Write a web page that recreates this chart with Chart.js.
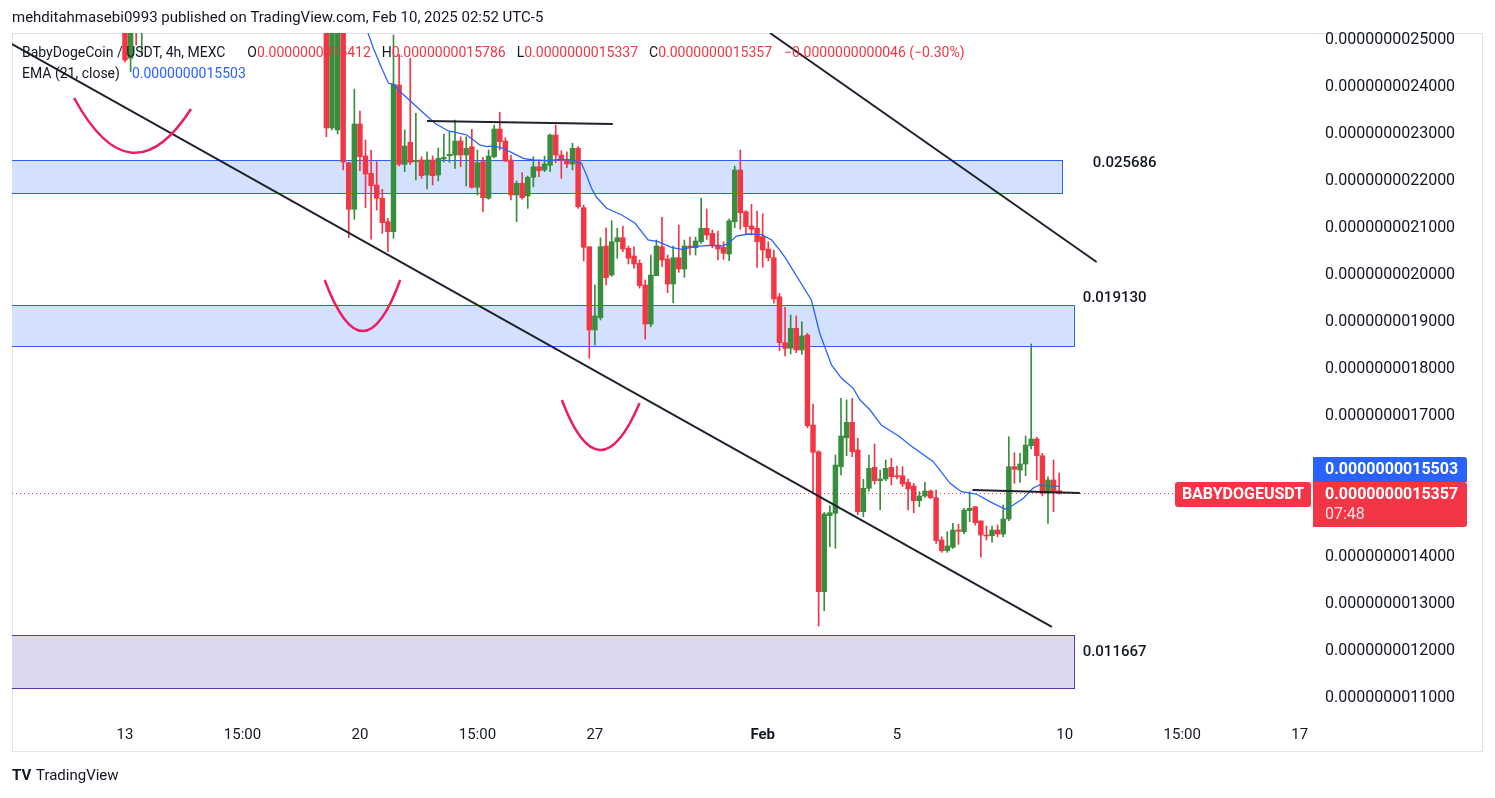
<!DOCTYPE html>
<html>
<head>
<meta charset="utf-8">
<script src="https://cdn.jsdelivr.net/npm/chart.js@4.4.1/dist/chart.umd.min.js"></script>
<style>
  html, body { margin: 0; padding: 0; background: #fff; }
  canvas { display: block; }
</style>
</head>
<body>
<canvas id="chart" width="1495" height="798"></canvas>
<script>
// prices are in units of 1e-9 USDT, candle index = 4h bars since Jan 13 00:00
const candleIdx = [0, 1, 2, 3,
  36, 37, 38, 39, 40, 41, 42, 43, 44, 45, 46, 47, 48, 49, 50, 51, 52, 53, 54, 55, 56, 57, 58, 59,
  60, 61, 62, 63, 64, 65, 66, 67, 68, 69, 70, 71, 72, 73, 74, 75, 76, 77, 78, 79, 80, 81, 82, 83,
  84, 85, 86, 87, 88, 89, 90, 91, 92, 93, 94, 95, 96, 97, 98, 99, 100, 101, 102, 103, 104, 105,
  106, 107, 108, 109, 110, 111, 112, 113, 114, 115, 116, 117, 118, 119, 120, 121, 122, 123, 124,
  125, 126, 127, 128, 129, 130, 131, 132, 133, 134, 135, 136, 137, 138, 139, 140, 141, 142, 143,
  144, 145, 146, 147, 148, 149, 150, 151, 152, 153, 154, 155, 156, 157, 158, 159, 160, 161, 162,
  163, 164, 165, 166, 167];

const open = [2.56, 2.4611, 2.60, 2.54,
  2.60, 2.3128, 2.3085, 2.60, 2.2389, 2.1398, 2.3213, 2.2532, 2.2164, 2.1915, 2.1632, 2.1134, 2.0921, 2.4042, 2.2355, 2.2823, 2.2411, 2.2447, 2.2128, 2.2447, 2.2128, 2.2468, 2.2538, 2.2553,
  2.2851, 2.2553, 2.2730, 2.1866, 2.2411, 2.1632, 2.2517, 2.3106, 2.2851, 2.2447, 2.1702, 2.1951, 2.1681, 2.2079, 2.2304, 2.2234, 2.2334, 2.2979, 2.2553, 2.2447, 2.2362, 2.2696, 2.1432, 2.0602,
  1.8830, 1.9091, 2.0617, 2.0000, 2.0708, 2.0794, 2.0568, 2.0404, 2.0249, 1.9787, 1.8957, 1.9985, 2.0602, 2.0340, 1.9808, 2.0368, 2.0128, 2.0617, 2.0581, 2.0708, 2.0994, 2.0887,
  2.0638, 2.0589, 2.0447, 2.1134, 2.2234, 2.1347, 2.1042, 2.0994, 2.0815, 2.0553, 2.0368, 1.9538, 1.8560, 1.8440, 1.8866, 1.8404, 1.8723, 1.6808, 1.6240,
  1.3262, 1.4879, 1.4930, 1.5921, 1.6538, 1.6866, 1.6277, 1.4964, 1.5462, 1.5908, 1.5623, 1.5660, 1.5908, 1.5730, 1.5730, 1.5589, 1.5511, 1.5198, 1.5298,
  1.5404, 1.5262, 1.4362, 1.4134, 1.4206, 1.4574, 1.4538, 1.4985, 1.5070, 1.4766, 1.4468, 1.4453, 1.4574, 1.4489, 1.4808, 1.5921, 1.5851, 1.5979, 1.6368,
  1.6511, 1.6155, 1.5355, 1.5638, 1.5412];

const high = [2.58, 2.60, 2.62, 2.60,
  2.62, 2.58, 2.62, 2.62, 2.2404, 2.3957, 2.3489, 2.2872, 2.2660, 2.2411, 2.1823, 2.1206, 2.5106, 2.4696, 2.3085, 2.4611, 2.3440, 2.2517, 2.2623, 2.2532, 2.2702, 2.3000, 2.3049, 2.3298,
  2.2942, 2.2942, 2.3100, 2.2660, 2.2504, 2.2660, 2.3191, 2.3462, 2.2921, 2.2553, 2.2000, 2.2177, 2.2106, 2.2517, 2.2447, 2.2532, 2.3000, 2.3191, 2.2645, 2.2623, 2.2802, 2.2730, 2.1489, 2.0602,
  1.9787, 2.0794, 2.1006, 2.1155, 2.0994, 2.1042, 2.0617, 2.0602, 2.0319, 1.9894, 2.0425, 2.0745, 2.1228, 2.0425, 2.0617, 2.1064, 2.0745, 2.0808, 2.0808, 2.1632, 2.1404, 2.0957,
  2.0936, 2.0708, 2.1191, 2.2319, 2.2660, 2.1369, 2.1504, 2.1362, 2.1298, 2.0708, 2.0532, 1.9611, 1.9313, 1.9149, 1.9128, 1.9006, 1.8759, 1.7255, 1.6262,
  1.4951, 1.5091, 1.6170, 1.7377, 1.7340, 1.7377, 1.6525, 1.5653, 1.6170, 1.6404, 1.5851, 1.6064, 1.6100, 1.5936, 1.5922, 1.5660, 1.5568, 1.5389, 1.5589,
  1.5426, 1.5426, 1.4432, 1.4538, 1.4717, 1.4696, 1.5036, 1.5389, 1.5070, 1.4772, 1.4660, 1.4660, 1.4681, 1.5106, 1.6560, 1.6219, 1.6206, 1.6574, 1.8532,
  1.6547, 1.6206, 1.5708, 1.6064, 1.5786];

const low = [2.4532, 2.4325, 2.4894, 2.4681,
  2.2942, 2.3085, 2.30, 2.2234, 2.0794, 2.1185, 2.2219, 2.1432, 2.0760, 2.1383, 2.0887, 2.0496, 2.0781, 2.2320, 2.2198, 2.2350, 2.2021, 2.2057, 2.1830, 2.1915, 2.2000, 2.2404, 2.2398, 2.2270,
  2.2304, 2.1894, 2.1845, 2.1702, 2.1347, 2.1611, 2.2490, 2.2660, 2.2411, 2.1596, 2.1134, 2.1611, 2.1419, 2.1879, 2.2091, 2.2198, 2.2198, 2.2389, 2.2057, 2.2283, 2.2234, 2.1419, 2.0298, 1.8228,
  1.8511, 1.9042, 1.9787, 1.9970, 2.0355, 2.0496, 2.0234, 2.0142, 1.9720, 1.8638, 1.8900, 1.9985, 2.0177, 1.9623, 1.9411, 2.0057, 1.9951, 2.0425, 2.0425, 2.0674, 2.0760, 2.0580,
  2.0319, 2.0334, 2.0304, 2.1006, 2.0972, 2.0872, 2.0851, 2.0164, 2.0164, 2.0300, 1.9400, 1.8389, 1.8277, 1.8319, 1.8347, 1.8310, 1.6750, 1.5355, 1.2532,
  1.2857, 1.4219, 1.4185, 1.5745, 1.6155, 1.6134, 1.4900, 1.4857, 1.5400, 1.5550, 1.5000, 1.5620, 1.5532, 1.5660, 1.5496, 1.5000, 1.4942, 1.5070, 1.5266,
  1.5240, 1.4291, 1.4100, 1.4100, 1.4180, 1.4270, 1.4489, 1.4751, 1.4681, 1.3994, 1.4362, 1.4313, 1.4430, 1.4432, 1.4772, 1.5568, 1.5589, 1.5730, 1.6300,
  1.5638, 1.5300, 1.4717, 1.4964, 1.5337];

const close = [2.4574, 2.57, 2.54, 2.58,
  2.3128, 2.56, 2.60, 2.2404, 2.1398, 2.3213, 2.2517, 2.2149, 2.1900, 2.1632, 2.1113, 2.0921, 2.4057, 2.2355, 2.2745, 2.2398, 2.2440, 2.2113, 2.2447, 2.2113, 2.2483, 2.2504, 2.2568, 2.2851,
  2.2553, 2.2696, 2.1866, 2.2389, 2.1645, 2.2532, 2.3106, 2.2836, 2.2425, 2.1702, 2.1951, 2.1645, 2.2079, 2.2304, 2.2219, 2.2362, 2.2979, 2.2553, 2.2432, 2.2362, 2.2696, 2.1453, 2.0589, 1.8830,
  1.9128, 2.0602, 1.9942, 2.0708, 2.0794, 2.0553, 2.0355, 2.0234, 1.9772, 1.8957, 2.0000, 2.0617, 2.0319, 1.9808, 2.0368, 2.0128, 2.0617, 2.0589, 2.0723, 2.0994, 2.0851, 2.0623,
  2.0553, 2.0462, 2.1155, 2.2234, 2.1325, 2.1028, 2.0972, 2.0708, 2.0532, 2.0368, 1.9489, 1.8560, 1.8440, 1.8866, 1.8404, 1.8702, 1.6794, 1.6228, 1.3262,
  1.4915, 1.4943, 1.5957, 1.6574, 1.6866, 1.6240, 1.4964, 1.5462, 1.5887, 1.5623, 1.5660, 1.5887, 1.5708, 1.5708, 1.5553, 1.5447, 1.5198, 1.5298, 1.5404,
  1.5262, 1.4347, 1.4134, 1.4234, 1.4574, 1.4547, 1.5000, 1.5036, 1.4730, 1.4468, 1.4447, 1.4574, 1.4489, 1.4808, 1.5921, 1.5866, 1.5979, 1.6383, 1.6511,
  1.6155, 1.5355, 1.5638, 1.5403, 1.5357];

// EMA(21, close)
const emaIdx = [43, 44.4, 45.9, 47.1, 48.0, 49.5, 51.8, 53.6, 55.4, 57.8, 59.9, 61.1, 62.3, 63.4, 64.6, 65.8,
  67.6, 69.4, 71.2, 73.0, 75.4, 77.7, 80.1, 81.6, 82.5, 83.4, 84.3, 86.1, 88.8, 91.2, 93.5, 95.3, 97.7,
  99.5, 101.9, 104.3, 106.6, 107.8, 109.3, 111.4, 113.8, 115.6, 116.8, 118.0, 122.7, 124.2, 126.3, 128.1,
  130.2, 131.4, 133.2, 135.2, 138.5, 140.3, 144.5, 147.5, 149.5, 152.2, 154.6, 157.3, 158.8, 160.6, 162.3,
  163.5, 167];
const emaVal = [2.53, 2.4823, 2.4398, 2.4079, 2.4057, 2.3866, 2.3617, 2.3419, 2.3228, 2.3064, 2.3015, 2.2979,
  2.2872, 2.2766, 2.2730, 2.2745, 2.2696, 2.2589, 2.2483, 2.2447, 2.2432, 2.2462, 2.2447, 2.2377, 2.2128,
  2.1845, 2.1653, 2.1419, 2.1277, 2.1100, 2.0745, 2.0708, 2.0589, 2.0545, 2.0602, 2.0632, 2.0617, 2.0660,
  2.0830, 2.0872, 2.0857, 2.0745, 2.0568, 2.0377, 1.9468, 1.8760, 1.8085, 1.7802, 1.7589, 1.7340, 1.7128,
  1.6808, 1.6560, 1.6383, 1.6028, 1.5568, 1.5389, 1.5340, 1.5177, 1.5021, 1.5106, 1.5249, 1.5462, 1.5532,
  1.5503];

// axes
const xTickPos = [0, 21, 42, 63, 84, 114, 138, 168, 189, 210];
const xTickLabels = ["13", "15:00", "20", "15:00", "27", "Feb", "5", "10", "15:00", "17"];
const yTicks = [1.1, 1.2, 1.3, 1.4, 1.5, 1.6, 1.7, 1.8, 1.9, 2.0, 2.1, 2.2, 2.3, 2.4, 2.5];

// drawings on the chart: [idx, price]
const zones = [
  { from: [-22, 2.2447], to: [167.5, 2.1745], fill: "#d3e0fe", stroke: "#2962ff" },
  { from: [-22, 1.9362], to: [169.6, 1.8489], fill: "#d3e0fe", stroke: "#2962ff" },
  { from: [-22, 1.2340], to: [169.6, 1.1213], fill: "#dcd6ef", stroke: "#5e35b1" },
];
const zoneLabels = [
  { text: "0.025686", at: [173.0, 2.2383] },
  { text: "0.019130", at: [171.2, 1.9511] },
  { text: "0.011667", at: [171.2, 1.1979] },
];
const trendLines = [
  [[-20.2, 2.4915], [165.7, 1.2511]],
  [[115.3, 2.5149], [173.7, 2.0277]],
  [[54.0, 2.3277], [87.2, 2.3213]],
  [[151.5, 1.5425], [170.7, 1.5362]],
];
// U-shaped marks: start, bottom, end
const arcs = [
  [[-9.1, 2.3766], [1.2, 2.2602], [11.8, 2.3532]],
  [[35.7, 1.9894], [42.5, 1.8808], [49.2, 1.9894]],
  [[78.1, 1.7340], [84.9, 1.6277], [92.0, 1.7277]],
];

const UP = "#388e3c";
const DOWN = "#f23645";
const BLUE = "#2962ff";
const INK = "#131722";
const FONT = "Roboto, 'Noto Sans', sans-serif";

const fmt = v => (v / 1e9).toFixed(13);
const colors = open.map((o, k) => close[k] >= o ? UP : DOWN);
const last = close.length - 1;

// hide axis labels that sit under the price / EMA tags
const tickColor = ctx => {
  const ys = ctx.chart.scales.y;
  const tagY = ys.getPixelForValue(close[last]) - 24;
  const y = ys.getPixelForValue(ctx.tick.value);
  return Math.abs(y - tagY) < 16 ? "rgba(0,0,0,0)" : INK;
};

const overlay = {
  id: "overlay",
  beforeDraw(chart) {
    const c = chart.ctx;
    c.save();
    c.fillStyle = "#fff";
    c.fillRect(0, 0, chart.width, chart.height);
    c.strokeStyle = "#e0e3eb";
    c.lineWidth = 1;
    c.strokeRect(12.5, 33.5, 1470, 718);
    c.restore();
  },
  beforeDatasetsDraw(chart) {
    const c = chart.ctx, xs = chart.scales.x, ys = chart.scales.y, a = chart.chartArea;
    c.save();
    c.beginPath();
    c.rect(a.left, a.top, a.right - a.left, a.bottom - a.top);
    c.clip();
    zones.forEach(z => {
      const x0 = xs.getPixelForValue(z.from[0]), x1 = xs.getPixelForValue(z.to[0]);
      const y0 = ys.getPixelForValue(z.from[1]), y1 = ys.getPixelForValue(z.to[1]);
      c.fillStyle = z.fill;
      c.fillRect(x0, y0, x1 - x0, y1 - y0);
      c.strokeStyle = z.stroke;
      c.lineWidth = 1;
      c.strokeRect(Math.round(x0) + 0.5, Math.round(y0) + 0.5, Math.round(x1 - x0), Math.round(y1 - y0));
    });
    // last price line
    const py = Math.round(ys.getPixelForValue(close[last])) + 0.5;
    c.strokeStyle = DOWN;
    c.lineWidth = 1;
    c.setLineDash([1, 3]);
    c.beginPath();
    c.moveTo(a.left, py);
    c.lineTo(a.right, py);
    c.stroke();
    c.restore();
  },
  afterDatasetsDraw(chart) {
    const c = chart.ctx, xs = chart.scales.x, ys = chart.scales.y, a = chart.chartArea;
    const P = p => [xs.getPixelForValue(p[0]), ys.getPixelForValue(p[1])];
    c.save();
    c.beginPath();
    c.rect(a.left, a.top, a.right - a.left, a.bottom - a.top);
    c.clip();
    c.strokeStyle = "#1e222d";
    c.lineWidth = 2;
    trendLines.forEach(([p, q]) => {
      const [x0, y0] = P(p), [x1, y1] = P(q);
      c.beginPath();
      c.moveTo(x0, y0);
      c.lineTo(x1, y1);
      c.stroke();
    });
    c.strokeStyle = "#e91e63";
    c.lineWidth = 2.5;
    arcs.forEach(([p, b, q]) => {
      const [x0, y0] = P(p), [bx, by] = P(b), [x1, y1] = P(q);
      const cx = 2 * bx - (x0 + x1) / 2, cy = 2 * by - (y0 + y1) / 2;
      c.beginPath();
      c.moveTo(x0, y0);
      c.quadraticCurveTo(cx, cy, x1, y1);
      c.stroke();
    });
    c.fillStyle = INK;
    c.font = "500 15px " + FONT;
    c.textBaseline = "middle";
    zoneLabels.forEach(l => {
      const [x, y] = P(l.at);
      c.fillText(l.text, x, y);
    });
    c.restore();
  },
  afterDraw(chart) {
    const c = chart.ctx, ys = chart.scales.y, a = chart.chartArea;
    c.save();
    c.textBaseline = "middle";
    c.textAlign = "left";

    // header
    c.font = "15px " + FONT;
    c.fillStyle = INK;
    c.fillText("mehditahmasebi0993 published on TradingView.com, Feb 10, 2025 02:52 UTC-5", 12, 18);

    // legend
    const runs = (x, y, parts) => {
      parts.forEach(([t, col, gap]) => {
        x += gap || 0;
        c.fillStyle = col;
        c.fillText(t, x, y);
        x += c.measureText(t).width;
      });
    };
    const chg = close[last] - close[last - 1];
    const pct = chg / close[last - 1] * 100;
    c.font = "14px " + FONT;
    runs(22, 53, [
      ["BabyDogeCoin / USDT, 4h, MEXC", INK],
      ["O", INK, 22], [fmt(open[last]), DOWN],
      ["H", INK, 11], [fmt(high[last]), DOWN],
      ["L", INK, 11], [fmt(low[last]), DOWN],
      ["C", INK, 11], [fmt(close[last]), DOWN],
      [fmt(chg).replace("-", "\u2212") + " (" + pct.toFixed(2).replace("-", "\u2212") + "%)", DOWN, 12],
    ]);
    runs(22, 74, [["EMA (21, close)", INK], [fmt(emaVal[emaVal.length - 1]), BLUE, 12]]);

    // price labels on the right
    const py = ys.getPixelForValue(close[last]);
    const top = Math.round(py - 11.5);
    const lx = a.right + 1, lw = 154;
    c.fillStyle = DOWN;
    c.beginPath();
    c.roundRect(lx, top, lw, 45, [0, 3, 3, 0]);
    c.fill();
    c.fillStyle = BLUE;
    c.beginPath();
    c.roundRect(lx, top - 25, lw, 25, [0, 3, 0, 0]);
    c.fill();
    c.fillStyle = DOWN;
    c.beginPath();
    c.roundRect(a.right - 137, top, 136, 25, 3);
    c.fill();

    c.font = "bold 16px " + FONT;
    c.fillStyle = "#fff";
    c.fillText(fmt(emaVal[emaVal.length - 1]), a.right + 13, top - 12);
    c.fillText(fmt(close[last]), a.right + 13, top + 13);
    c.textAlign = "center";
    c.fillText("BABYDOGEUSDT", a.right - 69, top + 13);
    c.textAlign = "left";
    c.fillStyle = "rgba(255,255,255,0.85)";
    c.font = "16px " + FONT;
    c.fillText("07:48", a.right + 13, top + 33);

    // footer logo
    c.fillStyle = INK;
    c.font = "bold 15px " + FONT;
    c.fillText("TV", 12, 776);
    c.font = "15px " + FONT;
    c.fillText("TradingView", 36, 776);
    c.restore();
  },
};

const bodies = candleIdx.map((x, k) => ({ x: x, y: [open[k], close[k]] }));
const wicks = candleIdx.map((x, k) => ({ x: x, y: [low[k], high[k]] }));
const ema = emaIdx.map((x, k) => ({ x: x, y: emaVal[k] }));

new Chart(document.getElementById("chart"), {
  type: "bar",
  data: {
    datasets: [
      {
        type: "line",
        data: ema,
        borderColor: BLUE,
        borderWidth: 1.3,
        pointRadius: 0,
        tension: 0,
        order: 1,
      },
      {
        data: bodies,
        backgroundColor: colors,
        barThickness: 4.8,
        minBarLength: 1,
        grouped: false,
        order: 2,
      },
      {
        data: wicks,
        backgroundColor: colors,
        barThickness: 1,
        grouped: false,
        order: 3,
      },
    ],
  },
  options: {
    responsive: false,
    animation: false,
    layout: { padding: { left: 12, top: 33, right: 13, bottom: 47 } },
    plugins: { legend: { display: false }, tooltip: { enabled: false } },
    scales: {
      x: {
        type: "linear",
        position: "bottom",
        offset: false,
        min: -20.2,
        max: 212.2,
        grid: { display: false, drawTicks: false, offset: false },
        border: { display: false },
        afterBuildTicks: s => { s.ticks = xTickPos.map(v => ({ value: v })); },
        afterFit: s => { s.height = 31; },
        ticks: {
          autoSkip: false,
          maxRotation: 0,
          padding: 6,
          color: INK,
          font: ctx => ({ family: FONT, size: 15, weight: ctx.tick && ctx.tick.label === "Feb" ? "bold" : "normal" }),
          callback: (v, i) => xTickLabels[i],
        },
      },
      y: {
        position: "right",
        min: 1.0532,
        max: 2.5149,
        grid: { display: false, drawTicks: false },
        border: { display: false },
        afterBuildTicks: s => { s.ticks = yTicks.map(v => ({ value: v })); },
        afterFit: s => { s.width = 170; },
        ticks: {
          autoSkip: false,
          padding: 13,
          color: tickColor,
          font: { family: FONT, size: 16 },
          callback: v => fmt(v),
        },
      },
    },
  },
  plugins: [overlay],
});
</script>
</body>
</html>
